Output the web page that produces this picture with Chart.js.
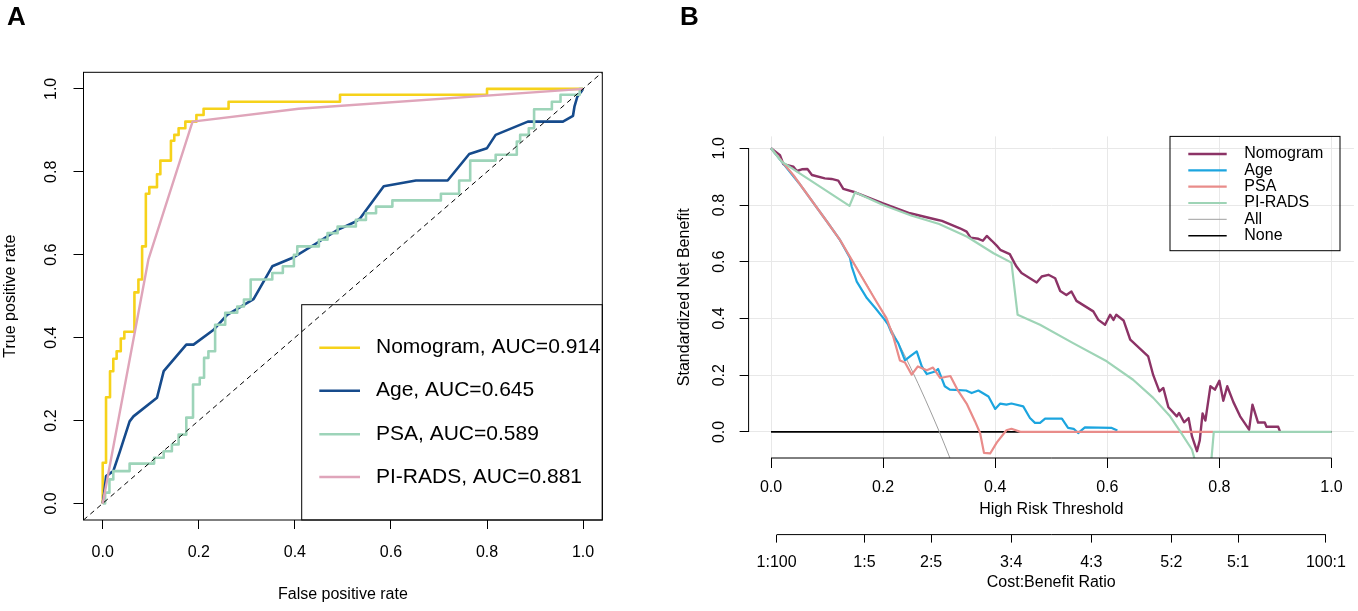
<!DOCTYPE html>
<html>
<head>
<meta charset="utf-8">
<script src="https://cdn.jsdelivr.net/npm/chart.js@4.4.1/dist/chart.umd.min.js"></script>
<style>
  body { margin: 0; background: #fff; width: 1358px; height: 611px; overflow: hidden; position: relative; }
  .panel { position: absolute; top: 0; height: 611px; }
  #panelA { left: 0; width: 660px; }
  #panelB { left: 660px; width: 698px; }
  .tag { position: absolute; top: 1px; font: bold 26px "Liberation Sans", Arial, sans-serif; color: #000; }
</style>
</head>
<body>
<div class="panel" id="panelA"><canvas id="rocChart"></canvas></div>
<div class="panel" id="panelB"><canvas id="dcaChart"></canvas></div>
<div class="tag" style="left:7px">A</div>
<div class="tag" style="left:680px">B</div>
<script>
const FONT = '"Liberation Sans", Arial, sans-serif';
Chart.defaults.font.family = FONT;
Chart.defaults.color = '#000';
Chart.defaults.animation = false;

// ---------- Panel A: ROC curves ----------
const rocTicks = [0, 0.2, 0.4, 0.6, 0.8, 1.0];
const rocTickLabels = ['0.0', '0.2', '0.4', '0.6', '0.8', '1.0'];
const rocLabels = ['Nomogram, AUC=0.914', 'Age, AUC=0.645', 'PSA, AUC=0.589', 'PI-RADS, AUC=0.881'];

// step corners: fpr where the curve rises, tpr reached after the rise
const nomoFpr = [0, 0, 0.0069, 0.0152, 0.022, 0.029, 0.0376, 0.045, 0.066, 0.0743, 0.082, 0.0898, 0.097, 0.113, 0.12, 0.142, 0.149, 0.158, 0.172, 0.195, 0.21, 0.262, 0.494, 0.80, 1.0];
const nomoTpr = [0, 0.098, 0.256, 0.319, 0.349, 0.367, 0.398, 0.414, 0.509, 0.540, 0.620, 0.747, 0.763, 0.794, 0.827, 0.875, 0.889, 0.905, 0.921, 0.937, 0.952, 0.969, 0.986, 1.0, 1.0];

const ageFpr = [0, 0.003, 0.007, 0.022, 0.036, 0.056, 0.064, 0.113, 0.127, 0.174, 0.189, 0.231, 0.259, 0.314, 0.353, 0.398, 0.44, 0.489, 0.527, 0.536, 0.585, 0.652, 0.718, 0.763, 0.80, 0.818, 0.885, 0.958, 0.979, 0.982, 0.988, 0.996, 1];
const ageTpr = [0, 0.024, 0.066, 0.078, 0.126, 0.198, 0.210, 0.255, 0.319, 0.383, 0.383, 0.419, 0.455, 0.493, 0.572, 0.594, 0.624, 0.660, 0.680, 0.688, 0.765, 0.779, 0.779, 0.843, 0.857, 0.889, 0.921, 0.921, 0.935, 0.957, 0.981, 0.993, 1];

const psaFpr = [0, 0.005, 0.014, 0.022, 0.056, 0.107, 0.127, 0.144, 0.158, 0.174, 0.188, 0.202, 0.211, 0.22, 0.234, 0.255, 0.28, 0.294, 0.308, 0.353, 0.375, 0.398, 0.405, 0.45, 0.468, 0.489, 0.527, 0.548, 0.569, 0.603, 0.704, 0.742, 0.765, 0.818, 0.862, 0.869, 0.887, 0.898, 0.935, 0.953, 0.993, 1.0];
const psaTpr = [0, 0.026, 0.058, 0.078, 0.096, 0.110, 0.126, 0.142, 0.166, 0.207, 0.287, 0.303, 0.351, 0.367, 0.431, 0.460, 0.475, 0.492, 0.540, 0.556, 0.572, 0.600, 0.620, 0.636, 0.652, 0.668, 0.684, 0.700, 0.716, 0.731, 0.747, 0.779, 0.827, 0.841, 0.873, 0.889, 0.905, 0.951, 0.969, 0.986, 1.0, 1.0];

const piradsFpr = [0, 0.095, 0.187, 0.408, 1.0];
const piradsTpr = [0, 0.588, 0.921, 0.952, 1.0];

const chanceLine = [-0.04, 1.04];

// ---------- Panel B: decision curves ----------
const nbTicks = [0, 0.2, 0.4, 0.6, 0.8, 1.0];
const nbTickLabels = ['0.0', '0.2', '0.4', '0.6', '0.8', '1.0'];
const costPositions = [0.0099, 0.1667, 0.2857, 0.4286, 0.5714, 0.7143, 0.8333, 0.9901];
const costLabels = ['1:100', '1:5', '2:5', '3:4', '4:3', '5:2', '5:1', '100:1'];
const dcaLabels = ['Nomogram', 'Age', 'PSA', 'PI-RADS', 'All', 'None'];

const nomoThr = [0, 0.016, 0.022, 0.040, 0.046, 0.055, 0.065, 0.073, 0.096, 0.108, 0.120, 0.129, 0.150, 0.200, 0.248, 0.296, 0.305, 0.337, 0.349, 0.356, 0.370, 0.378, 0.385, 0.394, 0.404, 0.409, 0.426, 0.434, 0.438, 0.447, 0.474, 0.483, 0.495, 0.507, 0.516, 0.527, 0.536, 0.545, 0.575, 0.584, 0.596, 0.605, 0.611, 0.616, 0.629, 0.641, 0.673, 0.682, 0.693, 0.700, 0.709, 0.724, 0.728, 0.737, 0.745, 0.751, 0.760, 0.765, 0.770, 0.775, 0.784, 0.792, 0.800, 0.807, 0.814, 0.825, 0.837, 0.853, 0.859, 0.869, 0.881, 0.884, 0.905, 0.908];
const nomoNB = [1.0, 0.976, 0.944, 0.935, 0.920, 0.926, 0.927, 0.906, 0.894, 0.892, 0.886, 0.857, 0.845, 0.806, 0.771, 0.748, 0.744, 0.718, 0.706, 0.685, 0.681, 0.674, 0.691, 0.674, 0.654, 0.642, 0.627, 0.597, 0.583, 0.560, 0.527, 0.548, 0.554, 0.542, 0.497, 0.483, 0.495, 0.462, 0.425, 0.395, 0.378, 0.413, 0.395, 0.413, 0.393, 0.325, 0.266, 0.200, 0.143, 0.155, 0.087, 0.055, 0.067, 0.034, 0.049, -0.015, -0.068, -0.030, 0.065, 0.040, 0.161, 0.149, 0.180, 0.110, 0.161, 0.105, 0.055, 0.008, 0.096, 0.033, 0.033, 0.018, 0.018, 0.002];

const ageThr = [0, 0.05, 0.10, 0.123, 0.141, 0.144, 0.153, 0.171, 0.186, 0.203, 0.209, 0.215, 0.227, 0.239, 0.248, 0.260, 0.269, 0.278, 0.293, 0.298, 0.310, 0.319, 0.348, 0.358, 0.370, 0.388, 0.400, 0.409, 0.420, 0.429, 0.450, 0.462, 0.471, 0.480, 0.489, 0.519, 0.530, 0.540, 0.548, 0.560, 0.608, 0.618];
const ageNB = [1.0, 0.877, 0.741, 0.677, 0.613, 0.583, 0.530, 0.472, 0.437, 0.395, 0.378, 0.349, 0.313, 0.252, 0.266, 0.284, 0.231, 0.204, 0.213, 0.222, 0.161, 0.149, 0.146, 0.137, 0.146, 0.125, 0.081, 0.100, 0.096, 0.100, 0.090, 0.049, 0.032, 0.032, 0.047, 0.047, 0.014, 0.011, -0.004, 0.016, 0.014, 0.005];

const psaThr = [0, 0.04, 0.10, 0.123, 0.186, 0.206, 0.218, 0.230, 0.239, 0.251, 0.262, 0.278, 0.289, 0.302, 0.320, 0.332, 0.349, 0.364, 0.373, 0.380, 0.391, 0.403, 0.420, 0.429, 0.445, 0.789];
const psaNB = [1.0, 0.905, 0.741, 0.677, 0.466, 0.401, 0.337, 0.252, 0.245, 0.202, 0.231, 0.217, 0.227, 0.190, 0.197, 0.151, 0.100, 0.037, -0.004, -0.074, -0.076, -0.037, 0.006, 0.011, 0.0, 0.0];

const piradsThr = [0, 0.019, 0.140, 0.150, 0.200, 0.250, 0.300, 0.350, 0.397, 0.429, 0.440, 0.480, 0.539, 0.599, 0.646, 0.682, 0.712, 0.730, 0.751, 0.765, 0.782, 0.786, 0.790, 1.0];
const piradsNB = [1.0, 0.953, 0.797, 0.845, 0.800, 0.763, 0.733, 0.688, 0.630, 0.597, 0.413, 0.378, 0.313, 0.249, 0.184, 0.120, 0.055, 0.002, -0.062, -0.16, -0.16, -0.092, 0.0, 0.0];

const allThr = [0, 0.05, 0.10, 0.15, 0.20, 0.25, 0.30, 0.32];
const allNB = [1.0, 0.877, 0.741, 0.589, 0.417, 0.223, 0.002, -0.096];

const noneThr = [0, 1];
const noneNB = [0, 0];

const pts = (xs, ys) => xs.map((x, i) => ({ x: x, y: ys[i] }));

// R-like extras: box, short axis lines, turned y labels, legend
const rPlot = {
  id: 'rPlot',
  afterDraw(chart, args, o) {
    const ctx = chart.ctx;
    const area = chart.chartArea;
    ctx.save();
    ctx.strokeStyle = '#000';
    ctx.lineWidth = 1;
    if (o.box) ctx.strokeRect(area.left, area.top, area.right - area.left, area.bottom - area.top);

    (o.axisLines || []).forEach(id => {
      const s = chart.scales[id];
      const p0 = s.getPixelForValue(s.ticks[0].value);
      const p1 = s.getPixelForValue(s.ticks[s.ticks.length - 1].value);
      ctx.beginPath();
      if (s.isHorizontal()) { ctx.moveTo(p0, s.top); ctx.lineTo(p1, s.top); }
      else { ctx.moveTo(s.right, p0); ctx.lineTo(s.right, p1); }
      ctx.stroke();
    });

    const ys = chart.scales.y;
    ctx.fillStyle = '#000';
    ctx.font = o.tickFont;
    ctx.textAlign = 'center';
    ctx.textBaseline = 'middle';
    ys.ticks.forEach((t, i) => {
      ctx.save();
      ctx.translate(o.yLabelX, ys.getPixelForValue(t.value));
      ctx.rotate(-Math.PI / 2);
      ctx.fillText(o.yLabels[i], 0, 0);
      ctx.restore();
    });

    const lg = o.legend;
    const right = lg.right || area.right;
    const bottom = lg.bottom || area.bottom;
    ctx.strokeStyle = '#000';
    ctx.lineWidth = 1;
    ctx.strokeRect(lg.left, lg.top, right - lg.left, bottom - lg.top);
    ctx.font = lg.font;
    ctx.textAlign = 'left';
    chart.data.datasets.filter(d => d.label).forEach((d, i) => {
      const y = lg.rows[i];
      ctx.strokeStyle = d.borderColor;
      ctx.lineWidth = d.borderWidth;
      ctx.beginPath();
      ctx.moveTo(lg.lineX[0], y);
      ctx.lineTo(lg.lineX[1], y);
      ctx.stroke();
      ctx.fillStyle = '#000';
      ctx.fillText(d.label, lg.textX, y);
    });
    ctx.restore();
  }
};

new Chart(document.getElementById('rocChart'), {
  type: 'line',
  data: {
    datasets: [
      { label: rocLabels[0], data: pts(nomoFpr, nomoTpr), borderColor: '#F6D21A', borderWidth: 2.6, stepped: 'before', order: 5 },
      { label: rocLabels[1], data: pts(ageFpr, ageTpr), borderColor: '#164B8C', borderWidth: 2.6, order: 4 },
      { label: rocLabels[2], data: pts(psaFpr, psaTpr), borderColor: '#9DD4B9', borderWidth: 2.6, stepped: 'before', order: 3 },
      { label: rocLabels[3], data: pts(piradsFpr, piradsTpr), borderColor: '#DFA5BA', borderWidth: 2.4, order: 2 },
      { data: pts(chanceLine, chanceLine), borderColor: '#000', borderWidth: 1, borderDash: [5, 4], order: 1 }
    ]
  },
  options: {
    responsive: true,
    maintainAspectRatio: false,
    events: [],
    elements: { point: { radius: 0 }, line: { tension: 0, borderJoinStyle: 'round' } },
    layout: { autoPadding: false, padding: { left: 0, top: 72.3, right: 57.7, bottom: 0 } },
    plugins: {
      legend: { display: false },
      tooltip: { enabled: false },
      rPlot: {
        box: true,
        tickFont: '16px ' + FONT,
        yLabelX: 52,
        yLabels: rocTickLabels,
        legend: { left: 301.7, top: 304.7, font: '21px ' + FONT, rows: [347.7, 390.7, 434.3, 477], lineX: [319.3, 360], textX: 376 }
      }
    },
    scales: {
      x: {
        type: 'linear', min: -0.04, max: 1.04,
        afterBuildTicks: s => { s.ticks = rocTicks.map(v => ({ value: v })); },
        afterFit: s => { s.height = 91; },
        grid: { drawOnChartArea: false, drawTicks: true, tickLength: 9, color: '#000', tickColor: '#000' },
        border: { display: false },
        ticks: { padding: 14.4, autoSkip: false, maxRotation: 0, font: { size: 16 }, color: '#000', callback: (v, i) => rocTickLabels[i] },
        title: { display: true, text: 'False positive rate', font: { size: 16 }, color: '#000', padding: { top: 0, bottom: 6.4 } }
      },
      y: {
        type: 'linear', min: -0.04, max: 1.04,
        afterBuildTicks: s => { s.ticks = rocTicks.map(v => ({ value: v })); },
        afterFit: s => { s.width = 83.5; },
        grid: { drawOnChartArea: false, drawTicks: true, tickLength: 10, color: '#000', tickColor: '#000' },
        border: { display: false },
        ticks: { display: false },
        title: { display: true, text: 'True positive rate', font: { size: 16 }, color: '#000', padding: { top: 1.4, bottom: 0 } }
      }
    }
  },
  plugins: [rPlot]
});

new Chart(document.getElementById('dcaChart'), {
  type: 'line',
  data: {
    datasets: [
      { label: dcaLabels[0], data: pts(nomoThr, nomoNB), borderColor: '#8C3366', borderWidth: 2.4, order: 4 },
      { label: dcaLabels[1], data: pts(ageThr, ageNB), borderColor: '#1CA5DF', borderWidth: 2.2, order: 3 },
      { label: dcaLabels[2], data: pts(psaThr, psaNB), borderColor: '#E98C8A', borderWidth: 2.2, order: 2 },
      { label: dcaLabels[3], data: pts(piradsThr, piradsNB), borderColor: '#9ED4B6', borderWidth: 2.2, order: 1 },
      { label: dcaLabels[4], data: pts(allThr, allNB), borderColor: '#9E9E9E', borderWidth: 1, cubicInterpolationMode: 'monotone', order: 5 },
      { label: dcaLabels[5], data: pts(noneThr, noneNB), borderColor: '#000', borderWidth: 1.6, order: 6 }
    ]
  },
  options: {
    responsive: true,
    maintainAspectRatio: false,
    events: [],
    elements: { point: { radius: 0 }, line: { tension: 0, borderJoinStyle: 'round' } },
    layout: { autoPadding: false, padding: { left: 0, top: 136.4, right: 4.1, bottom: 0 } },
    plugins: {
      legend: { display: false },
      tooltip: { enabled: false },
      rPlot: {
        box: false,
        axisLines: ['x', 'x2', 'y'],
        tickFont: '16px ' + FONT,
        yLabelX: 60,
        yLabels: nbTickLabels,
        legend: { left: 510, top: 136.4, right: 680, bottom: 250.7, font: '16px ' + FONT, rows: [154, 170.3, 186.7, 203, 219.3, 235.7], lineX: [528.3, 566.7], textX: 584.3 }
      }
    },
    scales: {
      x: {
        type: 'linear', position: 'bottom', weight: 0, min: -0.04, max: 1.04,
        afterBuildTicks: s => { s.ticks = nbTicks.map(v => ({ value: v })); },
        afterFit: s => { s.height = 76.6; },
        grid: { drawOnChartArea: true, drawTicks: true, tickLength: 10, color: '#E8E8E8', tickColor: '#000' },
        border: { display: false },
        ticks: { padding: 10, autoSkip: false, maxRotation: 0, font: { size: 16 }, color: '#000', callback: (v, i) => nbTickLabels[i] },
        title: { display: true, text: 'High Risk Threshold', font: { size: 16 }, color: '#000', padding: { top: 0, bottom: 15.4 } }
      },
      x2: {
        type: 'linear', position: 'bottom', weight: 1, min: -0.04, max: 1.04,
        afterBuildTicks: s => { s.ticks = costPositions.map(v => ({ value: v })); },
        afterFit: s => { s.height = 76.4; },
        grid: { drawOnChartArea: false, drawTicks: true, tickLength: 8, color: '#000', tickColor: '#000' },
        border: { display: false },
        ticks: { padding: 10.4, autoSkip: false, maxRotation: 0, font: { size: 16 }, color: '#000', callback: (v, i) => costLabels[i] },
        title: { display: true, text: 'Cost:Benefit Ratio', font: { size: 16 }, color: '#000', padding: { top: 0, bottom: 18.4 } }
      },
      y: {
        type: 'linear', min: -0.092, max: 1.042,
        afterBuildTicks: s => { s.ticks = nbTicks.map(v => ({ value: v })); },
        afterFit: s => { s.width = 88.6; },
        grid: { drawOnChartArea: true, drawTicks: true, tickLength: 9, color: '#E8E8E8', tickColor: '#000' },
        border: { display: false },
        ticks: { display: false },
        title: { display: true, text: 'Standardized Net Benefit', font: { size: 16 }, color: '#000', padding: { top: 15.4, bottom: 0 } }
      }
    }
  },
  plugins: [rPlot]
});
</script>
</body>
</html>
